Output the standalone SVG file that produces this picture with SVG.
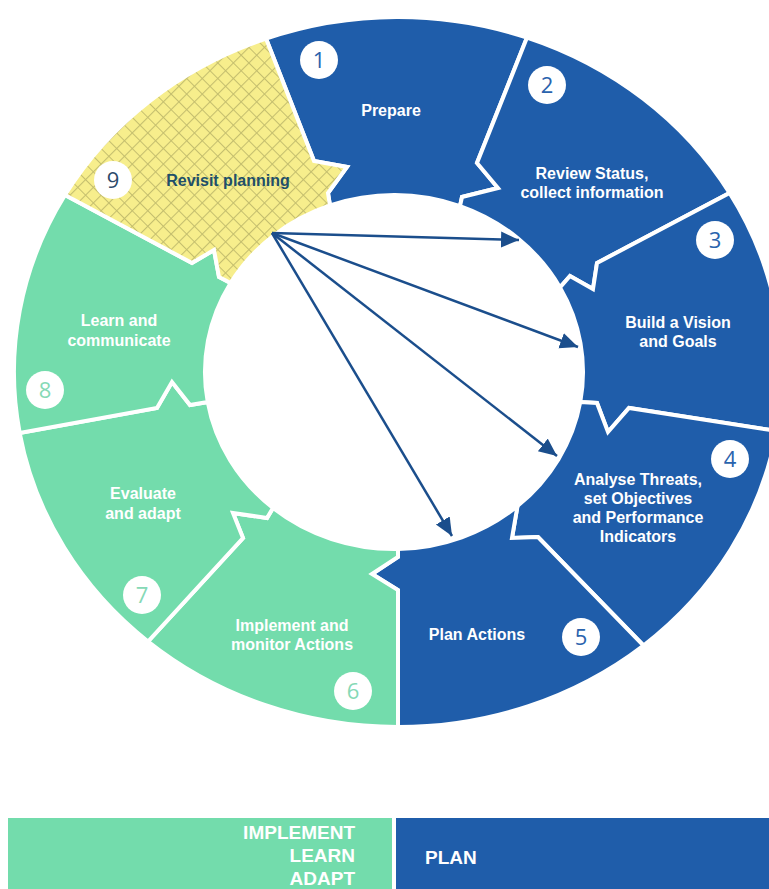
<svg xmlns="http://www.w3.org/2000/svg" width="769" height="889" viewBox="0 0 769 889">
<style>
.seg{stroke:#fff;stroke-width:4;stroke-linejoin:miter}
.blue{fill:#1f5daa}
.green{fill:#73dcac}
.lbl{font-family:"Liberation Sans",Arial,sans-serif;font-weight:bold;font-size:16px;fill:#fff;text-anchor:middle}
.num{font-family:"Open Sans","Liberation Sans",sans-serif;font-size:22px;text-anchor:middle}
.nb{fill:#2a63ad}.ng{fill:#86d9b6}.n9{fill:#2c4a6a}
.dot{fill:#fff}
.arr{stroke:#1b4e8c;stroke-width:2.5;fill:none;marker-end:url(#ah)}
.leg{font-family:"Liberation Sans",Arial,sans-serif;font-weight:bold;font-size:19px;fill:#fff}
</style>
<defs>
<pattern id="hatch" patternUnits="userSpaceOnUse" width="11" height="11" patternTransform="rotate(45)">
<rect width="11" height="11" fill="#f7ee8c"/>
<path d="M0 0.5H11M0.5 0V11" stroke="#c4be6e" stroke-width="1.1"/>
</pattern>
<marker id="ah" markerUnits="userSpaceOnUse" markerWidth="20" markerHeight="18" refX="18" refY="8" orient="auto">
<path d="M0 0L18 8L0 16Z" fill="#1b4e8c"/>
</marker>
</defs>
<rect width="769" height="889" fill="#fff"/>
<g id="seg1">
<path class="seg blue" d="M266 38.6A384 355 0 0 1 527 37.6L477 163L498 188L462 197L460 206.1A189 177 0 0 0 330 205.5L328 193L347 167L314 161Z"/>
<circle class="dot" cx="319" cy="60" r="19"/><text class="num nb" x="319" y="68">1</text>
<text class="lbl" x="391" y="116">Prepare</text>
</g>
<g id="seg2">
<path class="seg blue" d="M527 37.6A384 355 0 0 1 729.6 193L597 263L593 289L570 276L560 287.4A189 177 0 0 0 460 206.1L462 197L498 188L477 163Z"/>
<circle class="dot" cx="547" cy="85" r="19"/><text class="num nb" x="547" y="93">2</text>
<text class="lbl" x="592" y="179">Review Status,</text>
<text class="lbl" x="592" y="198">collect information</text>
</g>
<g id="seg3">
<path class="seg blue" d="M729.6 193A384 355 0 0 1 776.6 431L629 408L608 432L597 403L580.3 402A189 177 0 0 0 560 287.4L570 276L593 289L597 263Z"/>
<circle class="dot" cx="715" cy="240" r="19"/><text class="num nb" x="715" y="248">3</text>
<text class="lbl" x="678" y="327.5">Build a Vision</text>
<text class="lbl" x="678" y="347">and Goals</text>
</g>
<g id="seg4">
<path class="seg blue" d="M776.6 431A384 355 0 0 1 643.5 645.5L538 537L512 538L517.5 506A189 177 0 0 0 580.3 402L597 403L608 432L629 408Z"/>
<circle class="dot" cx="730" cy="459" r="19"/><text class="num nb" x="730" y="467">4</text>
<text class="lbl" x="638" y="485">Analyse Threats,</text>
<text class="lbl" x="638" y="504">set Objectives</text>
<text class="lbl" x="638" y="523">and Performance</text>
<text class="lbl" x="638" y="542">Indicators</text>
</g>
<g id="seg5">
<path class="seg blue" d="M643.5 645.5A384 355 0 0 1 398 727L398 590L372 574L398 557L398 549A189 177 0 0 0 517.5 506L512 538L538 537Z"/>
<circle class="dot" cx="581" cy="637" r="19"/><text class="num nb" x="581" y="645">5</text>
<text class="lbl" x="477" y="640">Plan Actions</text>
</g>
<g id="seg6">
<path class="seg green" d="M398 727A384 355 0 0 1 148 641.5L243 538L233 513L267 518L273 508A189 177 0 0 0 398 549L398 557L372 574L398 590Z"/>
<circle class="dot" cx="353" cy="691" r="19"/><text class="num ng" x="353" y="699">6</text>
<text class="lbl" x="292" y="631">Implement and</text>
<text class="lbl" x="292" y="650">monitor Actions</text>
</g>
<g id="seg7">
<path class="seg green" d="M148 641.5A384 355 0 0 1 19.7 433L157 408L172 382L190 405L207.7 402A189 177 0 0 0 273 508L267 518L233 513L243 538Z"/>
<circle class="dot" cx="142" cy="595" r="19"/><text class="num ng" x="142" y="603">7</text>
<text class="lbl" x="143" y="499">Evaluate</text>
<text class="lbl" x="143" y="519">and adapt</text>
</g>
<g id="seg8">
<path class="seg green" d="M19.7 433A384 355 0 0 1 65 195L192 263L214 250L219 277L230.6 283A189 177 0 0 0 207.7 402L190 405L172 382L157 408Z"/>
<circle class="dot" cx="45" cy="390" r="19"/><text class="num ng" x="45" y="398">8</text>
<text class="lbl" x="119" y="326">Learn and</text>
<text class="lbl" x="119" y="346">communicate</text>
</g>
<g id="seg9">
<path class="seg" fill="url(#hatch)" d="M65 195A384 355 0 0 1 266 38.6L314 161L347 167L328 193L330 205.5A189 177 0 0 0 230.6 283L219 277L214 250L192 263Z"/>
<circle class="dot" cx="113" cy="180" r="19"/><text class="num n9" x="113" y="188">9</text>
<text class="lbl" x="228" y="186" style="fill:#214f69">Revisit planning</text>
</g>
<g id="connectors">
<line class="arr" x1="272" y1="233" x2="519" y2="240"/>
<line class="arr" x1="272" y1="233" x2="578" y2="347"/>
<line class="arr" x1="272" y1="233" x2="557" y2="456"/>
<line class="arr" x1="272" y1="233" x2="452" y2="536"/>
</g>
<g id="legend-implement">
<rect x="8" y="818" width="384" height="80" fill="#73dcac"/>
<text class="leg" x="355" y="839" text-anchor="end">IMPLEMENT</text>
<text class="leg" x="355" y="862" text-anchor="end">LEARN</text>
<text class="leg" x="355" y="885" text-anchor="end">ADAPT</text>
</g>
<g id="legend-plan">
<rect x="396" y="818" width="380" height="80" fill="#1f5daa"/>
<text class="leg" x="425" y="864">PLAN</text>
</g>
</svg>
